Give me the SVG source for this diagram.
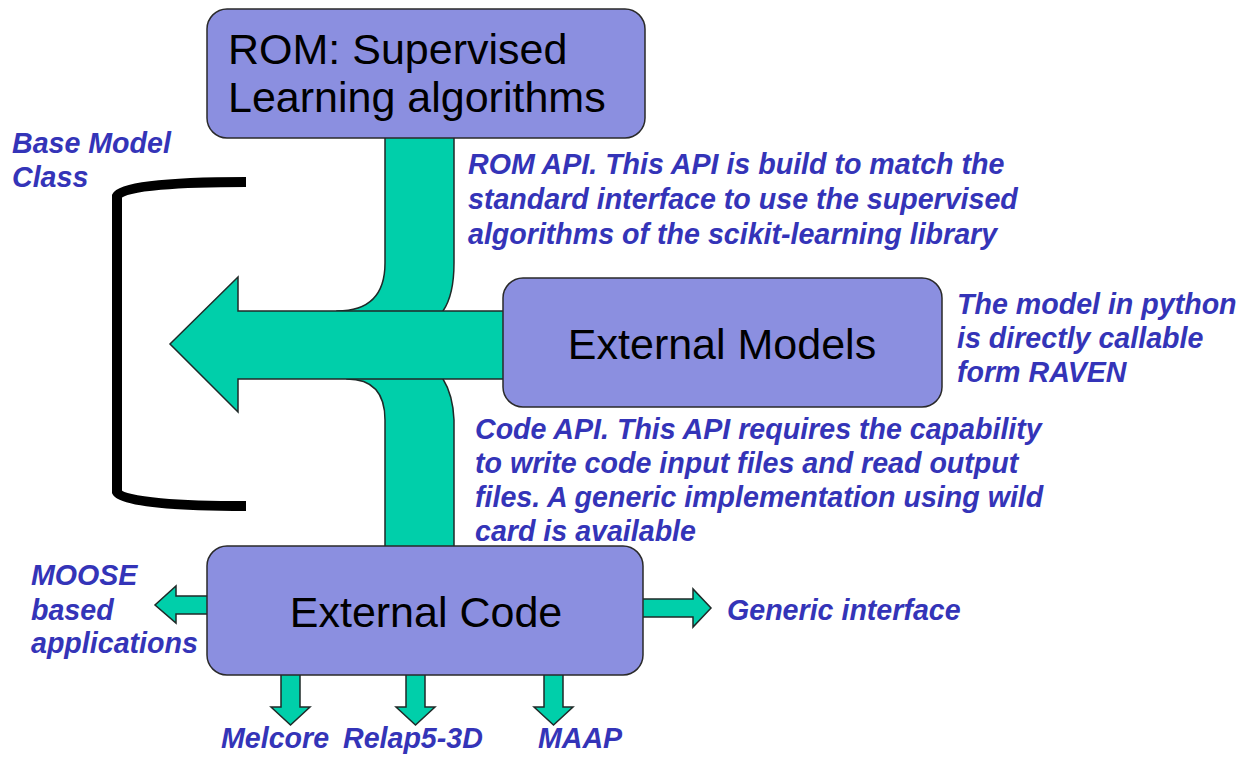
<svg xmlns="http://www.w3.org/2000/svg" width="1250" height="758" viewBox="0 0 1250 758">
<style>
.box{fill:#8b8fe0;stroke:#2a2a2a;stroke-width:1.5}
.flow{fill:#00cfaa;stroke:#1f2a28;stroke-width:1.5;stroke-linejoin:miter}
.big{font-family:"Liberation Sans",Arial,sans-serif;font-size:43px;fill:#000}
.lbl{font-family:"Liberation Sans",Arial,sans-serif;font-size:28.6px;font-weight:bold;font-style:italic;fill:#3434b8}
</style>
<rect width="1250" height="758" fill="#fff"/>
<g id="connectors">
<path class="flow" d="M385,130 L385,263 Q385,311 337,311 L337,330 L443,330 L443,311 Q454,295 454,263 L454,130 Z"/>
<path class="flow" d="M347,379 L347,370 L443,370 L443,379 Q453,395 454,420 L454,555 L385,555 L385,420 Q385,379 347,379 Z"/>
<path class="flow" d="M520,311 L238,311 L238,277 L170,344 L238,412 L238,379 L520,379 Z"/>
<path class="flow" d="M215,596 L176,596 L176,586 L155,605 L176,623 L176,614 L215,614 Z"/>
<path class="flow" d="M635,599 L693,599 L693,589 L711,608 L693,627 L693,617 L635,617 Z"/>
<path class="flow" d="M281,668 L281,707 L271,707 L290.5,725 L310,707 L300,707 L300,668 Z"/>
<path class="flow" d="M406,668 L406,707 L396,707 L415.5,725 L435,707 L425,707 L425,668 Z"/>
<path class="flow" d="M544,668 L544,707 L534,707 L553.5,725 L573,707 L563,707 L563,668 Z"/>
<path d="M246,182 C185,182 122,185 117,196 L117,492 C122,503 185,506 246,506" fill="none" stroke="#000" stroke-width="10"/>
</g>
<g id="rom">
<rect class="box" x="207" y="9" width="438" height="129" rx="20"/>
<text class="big" x="228" y="64">ROM: Supervised</text>
<text class="big" x="228" y="112">Learning algorithms</text>
</g>
<g id="external-models">
<rect class="box" x="503" y="278" width="439" height="129" rx="20"/>
<text class="big" x="722" y="359" text-anchor="middle">External Models</text>
</g>
<g id="external-code">
<rect class="box" x="207" y="546" width="436" height="129" rx="20"/>
<text class="big" x="426" y="627" text-anchor="middle">External Code</text>
</g>
<g id="labels">
<text class="lbl" x="12" y="153">Base Model</text>
<text class="lbl" x="12" y="187">Class</text>
<text class="lbl" x="468" y="174">ROM API. This API is build to match the</text>
<text class="lbl" x="468" y="209">standard interface to use the supervised</text>
<text class="lbl" x="468" y="244">algorithms of the scikit-learning library</text>
<text class="lbl" x="957" y="314">The model in python</text>
<text class="lbl" x="957" y="348">is directly callable</text>
<text class="lbl" x="957" y="382">form RAVEN</text>
<text class="lbl" x="475" y="439">Code API. This API requires the capability</text>
<text class="lbl" x="475" y="473">to write code input files and read output</text>
<text class="lbl" x="475" y="507">files. A generic implementation using wild</text>
<text class="lbl" x="475" y="541">card is available</text>
<text class="lbl" x="31" y="585">MOOSE</text>
<text class="lbl" x="31" y="620">based</text>
<text class="lbl" x="31" y="653">applications</text>
<text class="lbl" x="727" y="620">Generic interface</text>
<text class="lbl" x="221" y="748">Melcore</text>
<text class="lbl" x="343" y="748">Relap5-3D</text>
<text class="lbl" x="538" y="748">MAAP</text>
</g>
</svg>
